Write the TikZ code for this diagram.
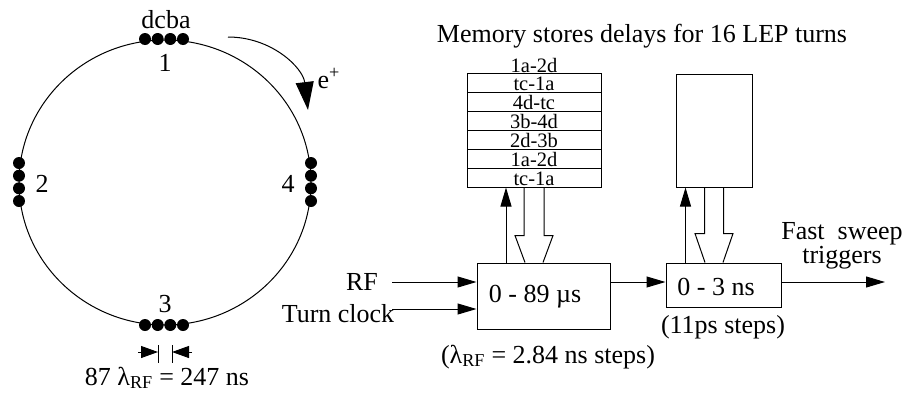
\documentclass[tikz,border=0pt]{standalone}
\usepackage{fontspec}
\setmainfont{Liberation Serif}
\usetikzlibrary{arrows.meta}
\begin{document}
\begin{tikzpicture}[x=1pt,y=-1pt,line width=1pt,
  every node/.style={inner sep=0pt,font=\fontsize{26}{22}\selectfont},
  small/.style={font=\fontsize{20.5}{20}\selectfont},
  arr/.style={-{Triangle[length=19pt,width=11pt]}},
  dimarr/.style={-{Triangle[length=17pt,width=12pt]}},
  bigarr/.style={-{Triangle[length=28pt,width=18pt]}},
  memrow/.style={draw,rectangle,minimum width=134pt,minimum height=18.83pt,
    text height=15pt,text depth=0pt,font=\fontsize{20.5}{20}\selectfont},
  blk/.style={draw,rectangle}
]
\useasboundingbox (0,0) rectangle (916,394);

% ring
\draw (165,182.5) ellipse [x radius=146, y radius=142.5];
\foreach \x in {145,157.7,170.3,183} {
  \fill (\x,39) circle [radius=6];
  \fill (\x,325) circle [radius=6];
}
\foreach \y in {163,175.7,188.3,201} {
  \fill (19,\y) circle [radius=6];
  \fill (311,\y) circle [radius=6];
}
\node[anchor=base] (dcba) at (166,28) {dcba};
\node[anchor=base] (n1) at (165,71) {1};
\node[anchor=base] (n2) at (42,192) {2};
\node[anchor=base] (n3) at (165,312) {3};
\node[anchor=base] (n4) at (288,192) {4};
\node[anchor=base west] (eplus) at (317,88) {e\textsuperscript{+}};
\draw[bigarr] (228,37) .. controls (272,37) and (303,68) .. (308,110);

% bunch spacing
\draw (158,345) -- (158,363);
\draw (172,345) -- (172,363);
\draw[dimarr] (138,352) -- (158,352);
\draw[dimarr] (192,352) -- (172,352);
\node[anchor=base] (spacing) at (167,385) {87 λ\textsubscript{RF} = 247 ns};

% title
\node[anchor=base] (title) at (642,42) {Memory stores delays for 16 LEP turns};

% memory 1
\node[anchor=base,small] (toplab) at (534,72) {1a-2d};
\node[memrow] (r1) at (534,83.4) {tc-1a};
\node[memrow] (r2) at (534,102.3) {4d-tc};
\node[memrow] (r3) at (534,121.1) {3b-4d};
\node[memrow] (r4) at (534,139.9) {2d-3b};
\node[memrow] (r5) at (534,158.7) {1a-2d};
\node[memrow] (r6) at (534,177.6) {tc-1a};
\node[rectangle,minimum width=134pt,minimum height=113pt] (mem1) at (534,130.5) {};

% memory 2
\node[blk,minimum width=76pt,minimum height=113pt] (mem2) at (714,130.5) {};

% delay boxes
\node[blk,minimum width=133pt,minimum height=66pt] (box1) at (543.5,296) {};
\node[anchor=base] (t1) at (535,302) {0 - 89 µs};
\node[blk,minimum width=115pt,minimum height=44pt] (box2) at (723.5,285) {};
\node[anchor=base] (t2) at (716,295) {0 - 3 ns};

\node[anchor=base] (steps1) at (548,363) {(λ\textsubscript{RF} = 2.84 ns steps)};
\node[anchor=base] (steps2) at (723,333) {(11ps steps)};

% inputs
\node[anchor=base] (rf) at (362,290) {RF};
\node[anchor=base] (turn) at (338,322) {Turn clock};
\coordinate (rfs) at (392,282);
\coordinate (tcs) at (392,309);
\draw[arr] (rfs) -- (rfs -| box1.west);
\draw[arr] (tcs) -- (tcs -| box1.west);
\draw[arr] (box1.east |- rfs) -- (box2.west |- rfs);
\coordinate (outp) at (885,282);
\draw[arr] (box2.east |- outp) -- (outp);
\node[align=center] (fast) at (842,245.5) {Fast~~sweep\\triggers};

% memory links 1
\draw[arr] ([xshift=-37.5pt]box1.north) -- ([xshift=-28pt]mem1.south);
\draw ([xshift=-10pt]mem1.south) -- ++(0,48) -- ++(-9,0) -- ([xshift=-18.5pt]box1.north);
\draw ([xshift=10pt]mem1.south) -- ++(0,48) -- ++(9,0) -- ([xshift=-0.5pt]box1.north);

% memory links 2
\draw[arr] ([xshift=-38pt]box2.north) -- ([xshift=-28.5pt]mem2.south);
\draw ([xshift=-9.5pt]mem2.south) -- ++(0,46) -- ++(-9.5,0) -- ([xshift=-18.5pt]box2.north);
\draw ([xshift=9.5pt]mem2.south) -- ++(0,46) -- ++(9.5,0) -- ([xshift=-0.5pt]box2.north);
\end{tikzpicture}
\end{document}
